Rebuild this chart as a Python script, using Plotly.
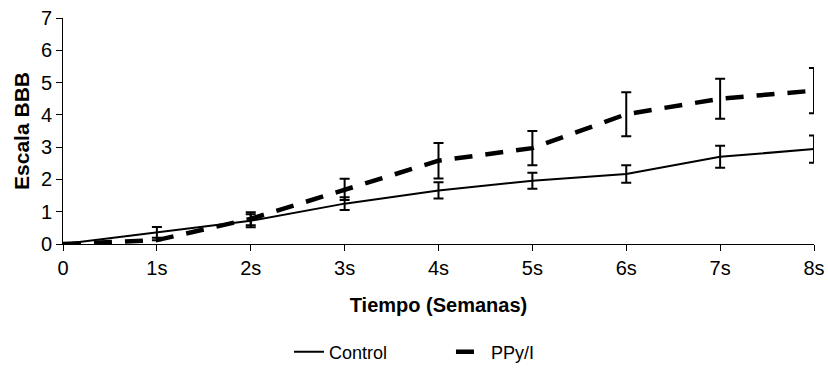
import plotly.graph_objects as go

weeks = [0, 1, 2, 3, 4, 5, 6, 7, 8]
tick_labels = ["0", "1s", "2s", "3s", "4s", "5s", "6s", "7s", "8s"]
y_ticks = [0, 1, 2, 3, 4, 5, 6, 7]
control = [0, 0.36, 0.72, 1.25, 1.66, 1.96, 2.17, 2.70, 2.94]
control_err = [0, 0.17, 0.2, 0.2, 0.25, 0.25, 0.27, 0.34, 0.42]
ppy = [0, 0.12, 0.78, 1.69, 2.58, 2.97, 4.02, 4.50, 4.75]
ppy_err = [0, 0.0, 0.2, 0.33, 0.55, 0.53, 0.68, 0.62, 0.70]

font_family = "Liberation Sans, Arial, sans-serif"

fig = go.Figure()
fig.add_trace(go.Scatter(
    x=weeks, y=control, mode="lines", name="Control",
    line=dict(color="black", width=2),
    error_y=dict(type="data", array=control_err, visible=True,
                 color="black", thickness=2, width=5),
))
fig.add_trace(go.Scatter(
    x=weeks, y=ppy, mode="lines", name="PPy/I",
    line=dict(color="black", width=4.5, dash="18px,13px"),
    error_y=dict(type="data", array=ppy_err, visible=True,
                 color="black", thickness=2, width=5),
))

fig.update_layout(
    width=828, height=375,
    margin=dict(l=63, r=14, t=18, b=131),
    paper_bgcolor="white", plot_bgcolor="white",
    font=dict(family=font_family, color="black", size=18),
    showlegend=True,
    legend=dict(orientation="h", xref="container", yref="container",
                x=0.349, xanchor="left", y=0.0613, yanchor="middle",
                font=dict(size=18), entrywidth=117, entrywidthmode="pixels"),
    xaxis=dict(
        range=[0, 8], tickvals=weeks, ticktext=tick_labels,
        showline=True, linecolor="black", linewidth=1,
        ticks="outside", ticklen=6, tickcolor="black",
        showgrid=False, zeroline=False, automargin=False,
        tickfont=dict(size=20),
        title=dict(text="<b>Tiempo (Semanas)</b>", font=dict(size=20), standoff=19),
    ),
    yaxis=dict(
        range=[0, 7], tickvals=y_ticks,
        showline=True, linecolor="black", linewidth=1,
        ticks="outside", ticklen=6, tickcolor="black",
        showgrid=False, zeroline=False, automargin=False,
        tickfont=dict(size=20),
        title=dict(text="<b>Escala BBB</b>", font=dict(size=21), standoff=5),
    ),
)

fig.write_html(
    "out.html",
    config={"displayModeBar": False},
    post_script="document.body.style.margin='0';document.body.style.overflow='hidden';",
)
